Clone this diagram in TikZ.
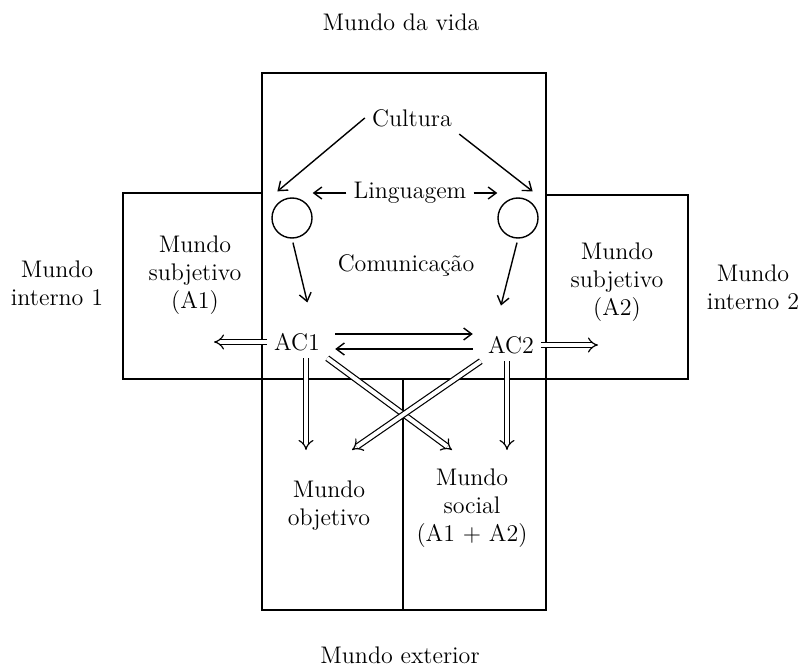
\documentclass[tikz,border=0pt]{standalone}
\usetikzlibrary{arrows.meta}
\begin{document}
\begin{tikzpicture}[x=0.5pt,y=-0.5pt,->,>={Straight Barb[length=4pt,width=6pt]},line width=0.7pt,font=\large]
		\tikzstyle{txt}=[align=center]
		\tikzstyle{ring}=[draw,shape=circle,minimum size=20pt,inner sep=0pt]
		\tikzstyle{box}=[-,line width=1.1pt]
		\tikzstyle{dbl}=[double,double distance=2pt,line width=0.6pt,-{Implies}]
		\useasboundingbox (0,0) rectangle (802,668);

		\draw[box] (262,73) rectangle (546,610);
		\draw[box] (262,193) -- (123,193) -- (123,379) -- (688,379) -- (688,195) -- (546,195);
		\draw[box] (403,379) -- (403,610);

		\node[txt](vida) at (401,22){Mundo da vida};
		\node[txt](ext) at (400,655){Mundo exterior};
		\node[txt](int1) at (57,283){Mundo\\interno 1};
		\node[txt](int2) at (753,287){Mundo\\interno 2};
		\node[txt](sub1) at (195,275){Mundo\\subjetivo\\(A1)};
		\node[txt](sub2) at (617,282){Mundo\\subjetivo\\(A2)};
		\node[txt](cul) at (412,118){Cultura};
		\node[txt](ling) at (410,193){Linguagem};
		\node[txt](com) at (406,265){Comunica\c{c}\~{a}o};
		\node[ring](c1) at (292,218){};
		\node[ring](c2) at (518,218){};
		\node[txt](ac1) at (297,342){AC1};
		\node[txt](ac2) at (511,345){AC2};
		\node[txt](obj) at (329,506){Mundo\\objetivo};
		\node[txt](soc) at (472,508){Mundo\\social\\(A1 + A2)};

		\coordinate (l1) at (214,343);
		\coordinate (r2) at (598,345);
		\coordinate (d1) at (306,450);
		\coordinate (d2) at (452,450);
		\coordinate (d3) at (352,450);
		\coordinate (d4) at (507,450);

		\draw (cul.west) -- ([yshift=6pt]c1.north west);
		\draw (cul.south east) -- ([yshift=6pt]c2.north east);
		\draw (ling.west) -- (ling.west -| c1.east);
		\draw (ling.east) -- (ling.east -| c2.west);
		\draw[shorten <=2pt,shorten >=12pt] (c1.south) -- ([xshift=8pt]ac1.north);
		\draw[shorten <=2pt,shorten >=12pt] (c2.south) -- ([xshift=-8pt]ac2.north);
		\draw[shorten <=4pt,shorten >=4pt] ([yshift=4pt]ac1.east) -- ([yshift=4pt]ac1.east -| ac2.west);
		\draw[shorten <=4pt,shorten >=4pt] ([yshift=-2pt]ac2.west) -- ([yshift=-2pt]ac2.west -| ac1.east);

		\draw[dbl] (ac1.west) -- (ac1.west -| l1);
		\draw[dbl] (ac2.east) -- (ac2.east -| r2);
		\draw[dbl] (ac1.south -| d1) -- (d1);
		\draw[dbl] (ac1.south east) -- (d2);
		\draw[dbl] (ac2.south west) -- (d3);
		\draw[dbl] (ac2.south -| d4) -- (d4);
	\end{tikzpicture}
\end{document}
